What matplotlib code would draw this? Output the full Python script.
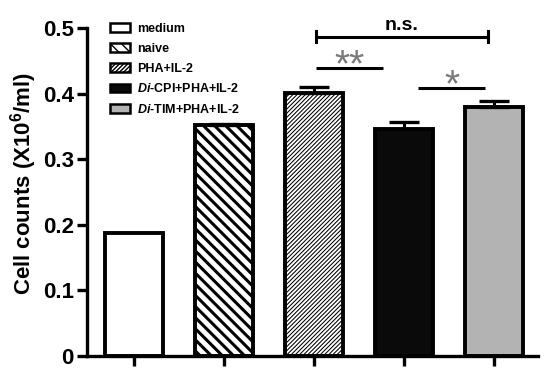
import matplotlib
matplotlib.use("Agg")
import matplotlib.pyplot as plt
from matplotlib.patches import Patch
import numpy as np

plt.rcParams['font.family'] = ['Liberation Sans', 'DejaVu Sans']
plt.rcParams['font.weight'] = 'bold'
plt.rcParams['mathtext.fontset'] = 'custom'
plt.rcParams['mathtext.rm'] = 'Liberation Sans:bold'
plt.rcParams['mathtext.bf'] = 'Liberation Sans:bold'
plt.rcParams['mathtext.it'] = 'Liberation Sans:italic:bold'
plt.rcParams['mathtext.default'] = 'bf'

# ---- data ----
categories = ["medium", "naive", "PHA+IL-2", "Di-CPI+PHA+IL-2", "Di-TIM+PHA+IL-2"]
legend_labels = ["medium", "naive", "PHA+IL-2",
                 r"$\mathit{Di}$-CPI+PHA+IL-2", r"$\mathit{Di}$-TIM+PHA+IL-2"]
values = [0.187, 0.352, 0.401, 0.346, 0.380]
errors = [0.0, 0.002, 0.009, 0.011, 0.009]
fills = ["white", "white", "white", "#0a0a0a", "#b3b3b3"]
hatches = [None, "\\\\\\", "////////", None, None]
legend_hatches = [None, "\\\\\\", "////////", None, None]
hatch_lw = [1, 2.2, 0.75, 1, 1]
yticks = [0, 0.1, 0.2, 0.3, 0.4, 0.5]
ytick_labels = ["0", "0.1", "0.2", "0.3", "0.4", "0.5"]
# significance: (x start, x end, height, label, color, end ticks)
sig_lines = [(2.02, 3.93, 0.487, "n.s.", "black", True),
             (2.02, 2.77, 0.439, "**", "#7a7a7a", False),
             (3.16, 3.90, 0.409, "*", "#7a7a7a", False)]

fig = plt.figure(figsize=(5.5, 3.79), dpi=100)
ax = fig.add_axes([87/550, 1-355.7/379, (538-87)/550, (355.7-28)/379])

x = np.arange(len(categories))
for i in range(len(categories)):
    with plt.rc_context({'hatch.linewidth': hatch_lw[i]}):
        b = ax.bar(x[i], values[i], width=0.65, color=fills[i], edgecolor="black",
                   linewidth=2.8, hatch=hatches[i], zorder=2)
        p = b.patches[0]
        if hasattr(p, "set_hatch_linewidth"):
            p.set_hatch_linewidth(hatch_lw[i])
    if errors[i] > 0:
        ax.errorbar(x[i], values[i], yerr=[[0], [errors[i]]], fmt="none",
                    ecolor="black", elinewidth=2.2, capsize=11, capthick=2.4, zorder=3)

ax.set_xlim(-0.522, 4.489)
ax.set_ylim(0, 0.5)
ax.set_yticks(yticks)
ax.set_yticklabels(ytick_labels)
ax.set_xticks(x)
ax.set_xticklabels([])
for s in ["top", "right"]:
    ax.spines[s].set_visible(False)
for s in ["left", "bottom"]:
    ax.spines[s].set_linewidth(2.4)
ax.tick_params(axis="y", length=7.5, width=2.4, labelsize=16, pad=2)
ax.tick_params(axis="x", length=7.5, width=2.4)
for lab in ax.get_yticklabels():
    lab.set_fontweight("bold")
ax.set_ylabel(r"Cell counts (X10$^{6}$/ml)", fontsize=16, fontweight="bold")
ax.yaxis.set_label_coords((39 - 87) / 451, (355.7 - 184) / 327.7)

# significance marks
for (x0, x1, h, lab, col, ends) in sig_lines:
    ax.plot([x0, x1], [h, h], color="black", lw=2.2, clip_on=False, zorder=4,
            solid_capstyle="butt")
    if ends:
        for xe in (x0, x1):
            ax.plot([xe, xe], [h - 0.008, h + 0.008], color="black", lw=2.2,
                    clip_on=False, zorder=4)
        ax.text((x0 + x1) / 2, h + 0.004, lab, ha="center", va="bottom",
                fontsize=14, fontweight="bold", color=col, clip_on=False)
    else:
        ax.text((x0 + x1) / 2, h - 0.025, lab, ha="center", va="bottom",
                fontsize=28, fontweight="normal", color=col, clip_on=False)

handles = []
for i in range(len(categories)):
    with plt.rc_context({'hatch.linewidth': 0.8}):
        hp = Patch(facecolor=fills[i], edgecolor="black", linewidth=1.8,
                   hatch=legend_hatches[i])
    handles.append(hp)
leg = ax.legend(handles, legend_labels, loc="upper left",
                bbox_to_anchor=(110/550, 1-23/379), bbox_transform=fig.transFigure,
                frameon=False, fontsize=9, handlelength=1.6, handleheight=0.7,
                handletextpad=0.55, labelspacing=0.62, borderpad=0, borderaxespad=0)
for t in leg.get_texts():
    t.set_fontweight("bold")

fig.savefig("out.png", dpi=100)
